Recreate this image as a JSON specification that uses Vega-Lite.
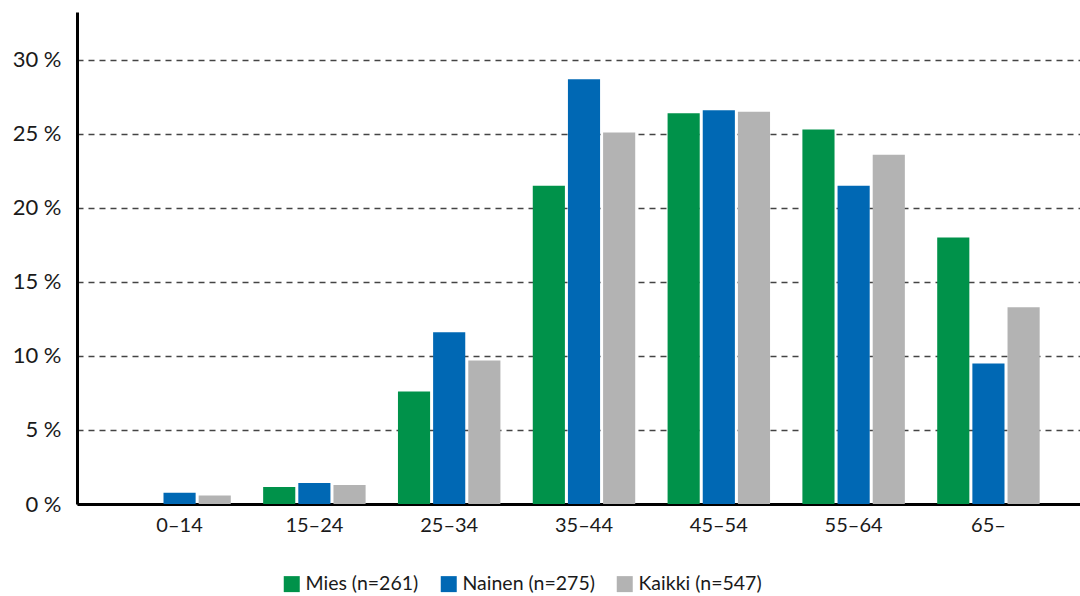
{
  "$schema": "https://vega.github.io/schema/vega-lite/v6.json",
  "width": 1003,
  "height": 492,
  "autosize": {"type": "none"},
  "padding": {"left": 77, "top": 12, "right": 0, "bottom": 92},
  "background": "white",
  "config": {
    "view": {"stroke": null},
    "font": "Lato",
    "axis": {"labelFont": "Lato", "labelColor": "#1a1a1a", "ticks": false}
  },
  "data": {
    "values": [
      {"ika": "0–14", "ryhma": "Mies (n=261)", "osuus": 0},
      {"ika": "0–14", "ryhma": "Nainen (n=275)", "osuus": 0.76},
      {"ika": "0–14", "ryhma": "Kaikki (n=547)", "osuus": 0.57},
      {"ika": "15–24", "ryhma": "Mies (n=261)", "osuus": 1.15},
      {"ika": "15–24", "ryhma": "Nainen (n=275)", "osuus": 1.42},
      {"ika": "15–24", "ryhma": "Kaikki (n=547)", "osuus": 1.28},
      {"ika": "25–34", "ryhma": "Mies (n=261)", "osuus": 7.6},
      {"ika": "25–34", "ryhma": "Nainen (n=275)", "osuus": 11.6},
      {"ika": "25–34", "ryhma": "Kaikki (n=547)", "osuus": 9.7},
      {"ika": "35–44", "ryhma": "Mies (n=261)", "osuus": 21.5},
      {"ika": "35–44", "ryhma": "Nainen (n=275)", "osuus": 28.7},
      {"ika": "35–44", "ryhma": "Kaikki (n=547)", "osuus": 25.1},
      {"ika": "45–54", "ryhma": "Mies (n=261)", "osuus": 26.4},
      {"ika": "45–54", "ryhma": "Nainen (n=275)", "osuus": 26.6},
      {"ika": "45–54", "ryhma": "Kaikki (n=547)", "osuus": 26.5},
      {"ika": "55–64", "ryhma": "Mies (n=261)", "osuus": 25.3},
      {"ika": "55–64", "ryhma": "Nainen (n=275)", "osuus": 21.5},
      {"ika": "55–64", "ryhma": "Kaikki (n=547)", "osuus": 23.6},
      {"ika": "65–", "ryhma": "Mies (n=261)", "osuus": 18.0},
      {"ika": "65–", "ryhma": "Nainen (n=275)", "osuus": 9.5},
      {"ika": "65–", "ryhma": "Kaikki (n=547)", "osuus": 13.3}
    ]
  },
  "mark": {"type": "bar"},
  "encoding": {
    "x": {
      "field": "ika", "type": "nominal", "sort": null,
      "scale": {"paddingInner": 0.24, "paddingOuter": 0.34, "align": 0.56},
      "axis": {"title": null, "labelAngle": 0, "labelPadding": 11, "labelFontSize": 20, "domainColor": "#000000", "domainWidth": 3, "grid": false}
    },
    "xOffset": {
      "field": "ryhma", "type": "nominal", "sort": null,
      "scale": {"paddingInner": 0.086, "paddingOuter": 0}
    },
    "y": {
      "field": "osuus", "type": "quantitative",
      "scale": {"domain": [0, 33.24], "nice": false},
      "axis": {
        "title": null, "values": [0, 5, 10, 15, 20, 25, 30],
        "labelExpr": "datum.value + ' %'", "labelPadding": 16, "labelFontSize": 22,
        "domainColor": "#000000", "domainWidth": 3,
        "grid": true, "gridColor": "#444444", "gridDash": [6, 5], "gridWidth": 1.3
      }
    },
    "color": {
      "field": "ryhma", "type": "nominal", "sort": null,
      "scale": {"range": ["#00924a", "#0068b4", "#b3b3b3"]},
      "legend": {
        "title": null, "orient": "none", "direction": "horizontal",
        "legendX": 205, "legendY": 562,
        "symbolType": "square", "symbolSize": 256, "symbolStrokeWidth": 0,
        "symbolOpacity": 1,
        "labelFontSize": 19.5, "labelFont": "Lato", "labelColor": "#1a1a1a",
        "labelOffset": 4, "columnPadding": 20
      }
    }
  }
}
